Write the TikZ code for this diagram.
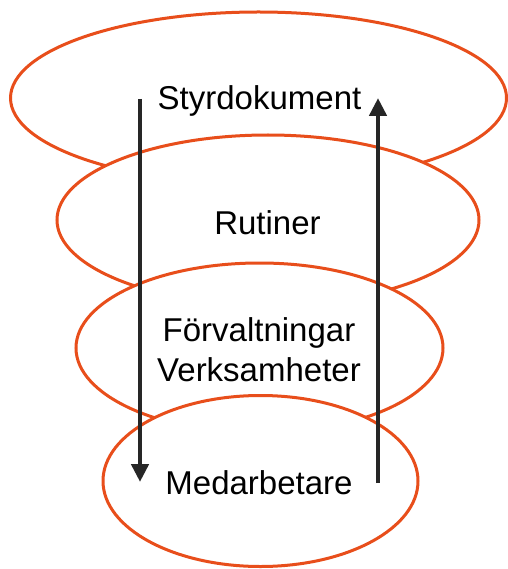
\documentclass[tikz,border=0pt]{standalone}
\usepackage{fontspec}
\setmainfont{Liberation Sans}
\usetikzlibrary{arrows.meta}
\definecolor{ringorange}{RGB}{232,78,27}
\definecolor{arrowgray}{RGB}{38,38,38}
\begin{document}
\begin{tikzpicture}[x=1pt,y=-1pt,
    ring/.style={draw=ringorange,line width=3pt,fill=white},
    ringtext/.style={font=\fontsize{33}{40}\selectfont,align=center},
    flow/.style={draw=arrowgray,line width=4.6pt,-{Triangle[width=17pt,length=18pt]}}]

    \useasboundingbox (0,0) rectangle (507,569);

    \def\styrring{(258.5,98) ellipse (248pt and 86pt)}
    \def\rutinring{(268,220) ellipse (211pt and 85pt)}
    \def\forvring{(259.5,348) ellipse (183.5pt and 85pt)}
    \def\medring{(260.5,481) ellipse (157.5pt and 85.5pt)}

    %draw ellipses (lower ones on top):
    \path[ring] \styrring;
    \path[ring] \rutinring;
    \path[ring] \forvring;
    \path[ring] \medring;

    %texts:
    \node[ringtext,anchor=base] (styr) at (259.5,110) {Styrdokument};
    \node[ringtext,anchor=base] (rutin) at (267.5,234) {Rutiner};
    \node[ringtext] (forv) at (259,350) {Förvaltningar\\Verksamheter};
    \node[ringtext,anchor=base] (med) at (259,494) {Medarbetare};

    %draw arrows:
    \coordinate (downstart) at (140,99);
    \coordinate (downend) at (140,482);
    \coordinate (upstart) at (378,483);
    \coordinate (upend) at (378,98);
    \draw[flow] (downstart) -- (downend);
    \draw[flow] (upstart) -- (upend);

\end{tikzpicture}
\end{document}
